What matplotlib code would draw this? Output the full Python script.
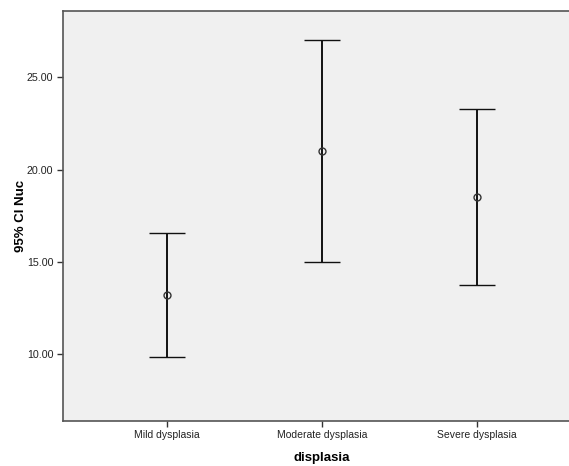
import matplotlib
matplotlib.use("Agg")
import matplotlib.pyplot as plt

# values
groups = ["Mild dysplasia", "Moderate dysplasia", "Severe dysplasia"]
means = [13.21, 21.01, 18.52]
lower = [9.84, 14.98, 13.72]
upper = [16.59, 27.02, 23.28]
yticks = [10.0, 15.0, 20.0, 25.0]

plt.rcParams['font.family'] = ['Liberation Sans', 'DejaVu Sans']

fig = plt.figure(figsize=(5.69, 4.66), dpi=100)
ax = fig.add_axes([0.1107, 0.0972, 0.9099, 0.8798])
ax.set_facecolor('#f0f0f0')

x = list(range(len(groups)))
err = [[m - l for m, l in zip(means, lower)], [u - m for m, u in zip(means, upper)]]
ax.errorbar(x, means, yerr=err, fmt='o', mfc='none', mec='#333333', ms=5, mew=1.0,
            ecolor='#111111', elinewidth=1.4, capsize=13, capthick=1.8)

ax.set_xlim(-0.669, 2.669)
ax.set_ylim(6.39, 28.61)
ax.set_xticks(x)
ax.set_xticklabels(groups, fontsize=7.5, color='#222222')
ax.set_yticks(yticks)
ax.set_yticklabels(["%.2f" % t for t in yticks], fontsize=7.7, color='#222222')
ax.tick_params(length=4, width=1, color='#333333', pad=3)

for s in ax.spines.values():
    s.set_color('#555555')
    s.set_linewidth(1.2)

ax.set_ylabel("95% CI Nuc", fontsize=9.5, fontweight='bold', labelpad=0)
ax.set_xlabel("displasia", fontsize=9.5, fontweight='bold', labelpad=8)

plt.savefig("out.png", dpi=100)
